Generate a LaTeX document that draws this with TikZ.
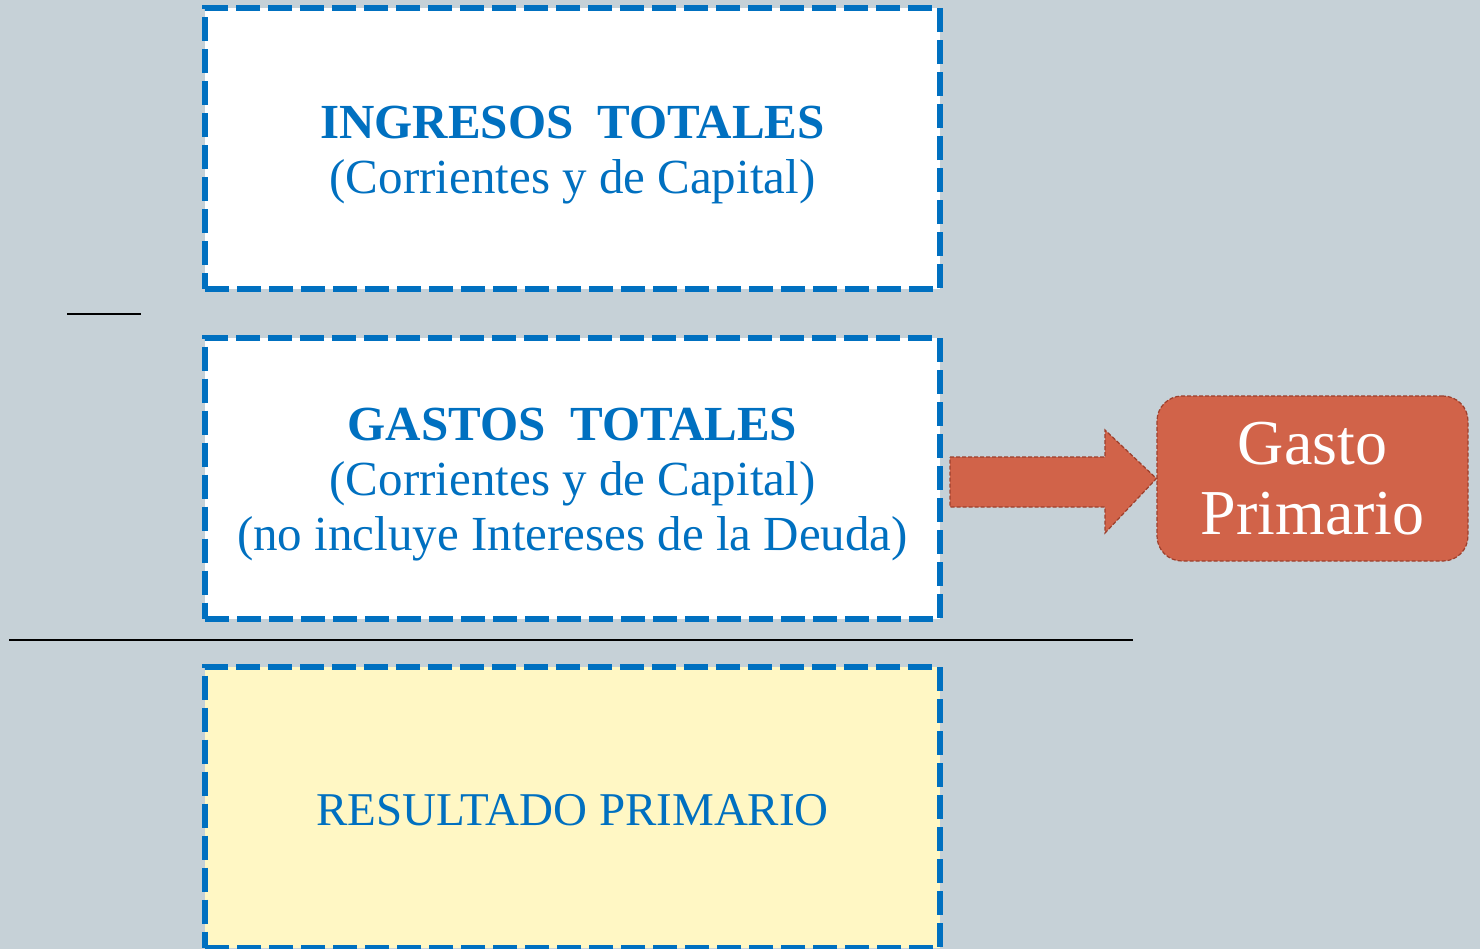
\documentclass[tikz,border=0pt]{standalone}
\usepackage{fontspec}
\setmainfont{Liberation Serif}
\definecolor{bg}{HTML}{C6D1D7}
\definecolor{bblue}{HTML}{0070C0}
\definecolor{ylw}{HTML}{FFF7C4}
\definecolor{rust}{HTML}{D16349}
\definecolor{rustdark}{HTML}{9C3F2C}
\tikzset{
  dbox/.style={draw=bblue, line width=3pt, dash pattern=on 12pt off 4pt, fill=white,
    minimum width=367.5pt, minimum height=140.5pt, inner sep=0pt},
  btext/.style={align=center, text=bblue, inner sep=0pt, font=\fontsize{24.5}{27.5}\selectfont},
  gbox/.style={draw=rustdark, line width=0.6pt, dash pattern=on 2pt off 1pt, fill=rust,
    rounded corners=12.5pt, minimum width=155.5pt, minimum height=82.5pt, inner sep=0pt,
    align=center, text=white, font=\fontsize{32}{35}\selectfont},
  barrow/.style={draw=rustdark, line width=0.6pt, dash pattern=on 2pt off 1pt, fill=rust},
  rule/.style={draw=black, line width=1pt}
}
\begin{document}
\begin{tikzpicture}[x=0.5pt,y=-0.5pt]
\fill[bg] (0,0) rectangle (1480,949);
\useasboundingbox (0,0) rectangle (1480,949);
\node[dbox] (ing) at (572.5,148.5) {};
\node[dbox] (gas) at (572.5,478) {};
\node[dbox, fill=ylw] (res) at (572.5,807) {};
\node[btext, yshift=-3.5pt] (ingt) at (ing.center) {\textbf{INGRESOS\ \ TOTALES}\\(Corrientes y de Capital)};
\node[btext, yshift=-3.5pt] (gast) at (gas.center) {\textbf{GASTOS\ \ TOTALES}\\(Corrientes y de Capital)\\(no incluye Intereses de la Deuda)\hspace{0.1em}};
\node[btext, yshift=-1.5pt, font=\fontsize{23.5}{27.5}\selectfont] (rest) at (res.center) {RESULTADO PRIMARIO};
\node[gbox] (gp) at (1312.5,478.5) {Gasto\\Primario};
\draw[barrow] (950,457) -- (1105,457) -- (1105,430) -- (gp.west) -- (1105,533) -- (1105,507) -- (950,507) -- cycle;
\coordinate (s1) at (67,314);
\coordinate (s2) at (141,314);
\draw[rule] (s1) -- (s2);
\coordinate (l1) at (9,640);
\coordinate (l2) at (1133,640);
\draw[rule] (l1) -- (l2);
\end{tikzpicture}
\end{document}
